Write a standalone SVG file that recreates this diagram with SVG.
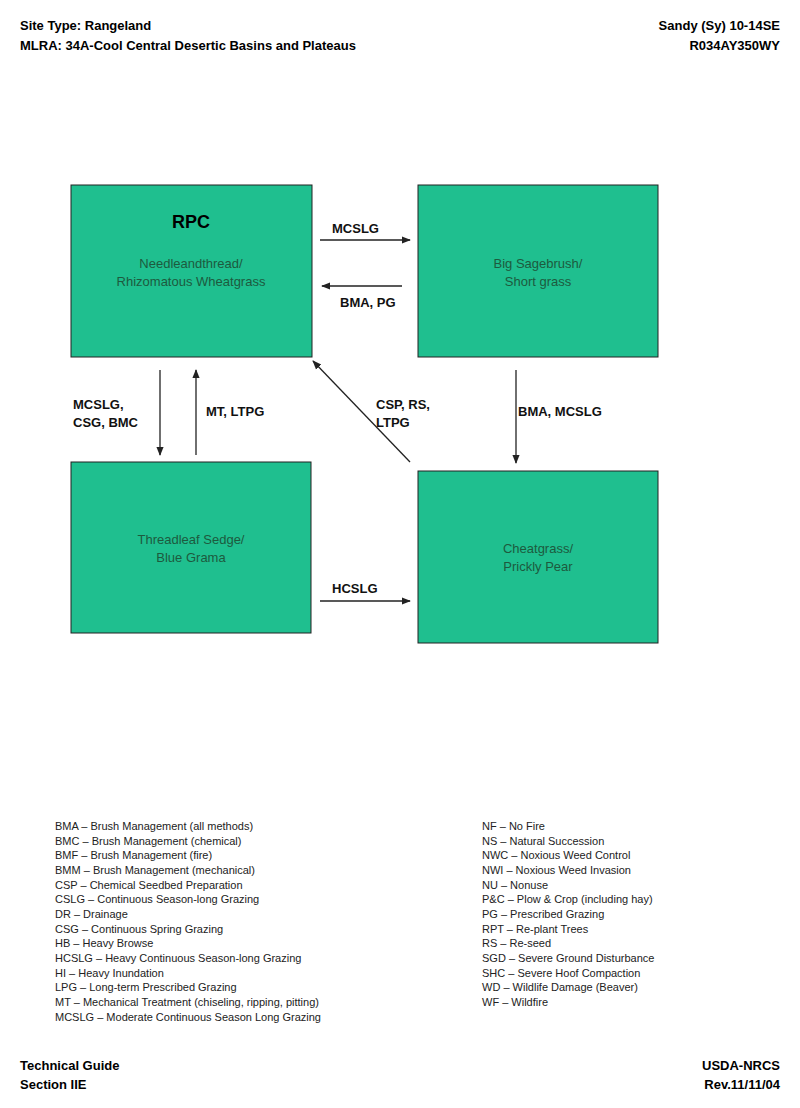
<svg xmlns="http://www.w3.org/2000/svg" width="800" height="1108" viewBox="0 0 800 1108">
<style>
.h{font-family:"Liberation Sans",Arial,sans-serif;font-weight:bold;font-size:13px;fill:#000}
.box{fill:#1fbf8f;stroke:#222;stroke-width:1}
.bt{font-family:"Liberation Sans",Arial,sans-serif;font-size:13px;fill:#1d5a3e;text-anchor:middle}
.lb{font-family:"Liberation Sans",Arial,sans-serif;font-weight:bold;font-size:13px;fill:#111}
.lg{font-family:"Liberation Sans",Arial,sans-serif;font-size:11px;fill:#222}
.c{stroke:#222;stroke-width:1.3;fill:none;marker-end:url(#a)}
</style>
<defs><marker id="a" viewBox="0 0 10 10" refX="9" refY="5" markerWidth="7" markerHeight="7" orient="auto"><path d="M0,1 L10,5 L0,9 z" fill="#222"/></marker></defs>
<rect width="800" height="1108" fill="#fff"/>
<text class="h" x="20" y="30">Site Type:  Rangeland</text>
<text class="h" x="20" y="50">MLRA: 34A-Cool Central Desertic Basins and Plateaus</text>
<text class="h" x="780" y="30" text-anchor="end">Sandy (Sy) 10-14SE</text>
<text class="h" x="780" y="50" text-anchor="end">R034AY350WY</text>
<g id="rpc"><rect class="box" x="71" y="185" width="241" height="172"/>
<text x="191" y="228" text-anchor="middle" style="font-family:'Liberation Sans',Arial,sans-serif;font-weight:bold;font-size:18px">RPC</text>
<text class="bt" x="191" y="268">Needleandthread/</text><text class="bt" x="191" y="286">Rhizomatous Wheatgrass</text></g>
<g id="sage"><rect class="box" x="418" y="185" width="240" height="172"/>
<text class="bt" x="538" y="268">Big Sagebrush/</text><text class="bt" x="538" y="286">Short grass</text></g>
<g id="sedge"><rect class="box" x="71" y="462" width="240" height="171"/>
<text class="bt" x="191" y="544">Threadleaf Sedge/</text><text class="bt" x="191" y="562">Blue Grama</text></g>
<g id="cheat"><rect class="box" x="418" y="471" width="240" height="172"/>
<text class="bt" x="538" y="553">Cheatgrass/</text><text class="bt" x="538" y="571">Prickly Pear</text></g>
<g id="connectors">
<line class="c" x1="320" y1="240" x2="410" y2="240"/>
<line class="c" x1="402" y1="286" x2="322" y2="286"/>
<line class="c" x1="160" y1="370" x2="160" y2="455"/>
<line class="c" x1="196" y1="455" x2="196" y2="370"/>
<line class="c" x1="410" y1="462" x2="313" y2="361"/>
<line class="c" x1="516" y1="370" x2="516" y2="463"/>
<line class="c" x1="320" y1="601" x2="410" y2="601"/>
<text class="lb" x="332" y="233">MCSLG</text>
<text class="lb" x="340" y="307">BMA, PG</text>
<text class="lb" x="73" y="409">MCSLG,</text>
<text class="lb" x="73" y="427">CSG, BMC</text>
<text class="lb" x="206" y="416">MT, LTPG</text>
<text class="lb" x="376" y="409">CSP, RS,</text>
<text class="lb" x="376" y="427">LTPG</text>
<text class="lb" x="518" y="416">BMA, MCSLG</text>
<text class="lb" x="332" y="593">HCSLG</text>
</g>
<g class="lg">
<text x="55" y="830" class="lg">BMA – Brush Management (all methods)</text>
<text x="55" y="845" class="lg">BMC – Brush Management (chemical)</text>
<text x="55" y="859" class="lg">BMF – Brush Management (fire)</text>
<text x="55" y="874" class="lg">BMM – Brush Management (mechanical)</text>
<text x="55" y="889" class="lg">CSP – Chemical Seedbed Preparation</text>
<text x="55" y="903" class="lg">CSLG – Continuous Season-long Grazing</text>
<text x="55" y="918" class="lg">DR – Drainage</text>
<text x="55" y="933" class="lg">CSG – Continuous Spring Grazing</text>
<text x="55" y="947" class="lg">HB – Heavy Browse</text>
<text x="55" y="962" class="lg">HCSLG – Heavy Continuous Season-long Grazing</text>
<text x="55" y="977" class="lg">HI – Heavy Inundation</text>
<text x="55" y="991" class="lg">LPG – Long-term Prescribed Grazing</text>
<text x="55" y="1006" class="lg">MT – Mechanical Treatment (chiseling, ripping, pitting)</text>
<text x="55" y="1021" class="lg">MCSLG – Moderate Continuous Season Long Grazing</text>
<text x="482" y="830" class="lg">NF – No Fire</text>
<text x="482" y="845" class="lg">NS – Natural Succession</text>
<text x="482" y="859" class="lg">NWC – Noxious Weed Control</text>
<text x="482" y="874" class="lg">NWI – Noxious Weed Invasion</text>
<text x="482" y="889" class="lg">NU – Nonuse</text>
<text x="482" y="903" class="lg">P&amp;C – Plow &amp; Crop (including hay)</text>
<text x="482" y="918" class="lg">PG – Prescribed Grazing</text>
<text x="482" y="933" class="lg">RPT – Re-plant Trees</text>
<text x="482" y="947" class="lg">RS – Re-seed</text>
<text x="482" y="962" class="lg">SGD – Severe Ground Disturbance</text>
<text x="482" y="977" class="lg">SHC – Severe Hoof Compaction</text>
<text x="482" y="991" class="lg">WD – Wildlife Damage (Beaver)</text>
<text x="482" y="1006" class="lg">WF – Wildfire</text>
</g>
<text class="h" x="20" y="1070">Technical Guide</text>
<text class="h" x="20" y="1089">Section IIE</text>
<text class="h" x="780" y="1070" text-anchor="end">USDA-NRCS</text>
<text class="h" x="780" y="1089" text-anchor="end">Rev.11/11/04</text>
</svg>
